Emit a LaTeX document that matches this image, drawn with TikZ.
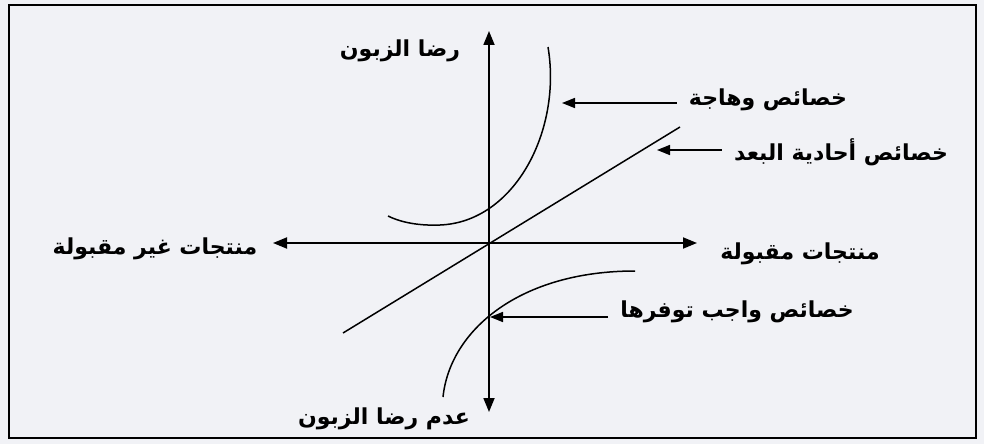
\documentclass[tikz,border=0pt]{standalone}
\usepackage{fontspec}
\usetikzlibrary{arrows.meta}
\TeXXeTstate=1
\newfontfamily\arabicfont[Script=Arabic]{DejaVu Sans}
\definecolor{bgcol}{RGB}{241,242,246}
\tikzset{
  lbl/.style={font=\arabicfont\bfseries\fontsize{22}{26}\selectfont, inner sep=0pt, anchor=center, text=black},
  axisline/.style={line width=1.8pt, {Triangle[length=14pt,width=11pt]}-{Triangle[length=14pt,width=11pt]}},
  ptr/.style={line width=1.6pt, -{Triangle[length=13pt,width=10pt]}, shorten <=12pt},
  curve/.style={line width=1.5pt}
}
\begin{document}
\begin{tikzpicture}[x=1pt,y=-1pt]
\useasboundingbox (0,0) rectangle (984,444);
\fill[bgcol] (0,0) rectangle (984,444);
\draw[line width=2pt] (9,5) rectangle (976,438);
% axes
\coordinate (vt) at (489,31);
\coordinate (vb) at (489,412);
\coordinate (hl) at (273,243);
\coordinate (hr) at (697,243);
\draw[axisline] (vb) -- (vt);
\draw[axisline] (hl) -- (hr);
% curves
\draw[curve] (548,47) .. controls (562,130) and (515,222) .. (440,225) .. controls (415,226) and (398,221) .. (388,216);
\draw[curve] (343,333) -- (680,127);
\draw[curve] (443,397) .. controls (450,330) and (520,271) .. (635,271);
% labels
\node[lbl] (sat) at (400,51) {\beginR رضا الزبون\endR};
\node[lbl] (dissat) at (384,419) {\beginR عدم رضا الزبون\endR};
\node[lbl] (unacc) at (155,249) {\beginR منتجات غير مقبولة\endR};
\node[lbl] (acc) at (800,254) {\beginR منتجات مقبولة\endR};
\node[lbl] (del) at (768,100) {\beginR خصائص وهاجة\endR};
\node[lbl] (one) at (841,152) {\beginR خصائص أحادية البعد\endR};
\node[lbl] (must) at (737,312) {\beginR خصائص واجب توفرها\endR};
% pointers
\coordinate (delpt) at (562,103);
\coordinate (onept) at (657,150);
\coordinate (mustpt) at (490,317);
\draw[ptr] (del.west |- delpt) -- (delpt);
\draw[ptr] (one.west |- onept) -- (onept);
\draw[ptr] (must.west |- mustpt) -- (mustpt);
\end{tikzpicture}
\end{document}
